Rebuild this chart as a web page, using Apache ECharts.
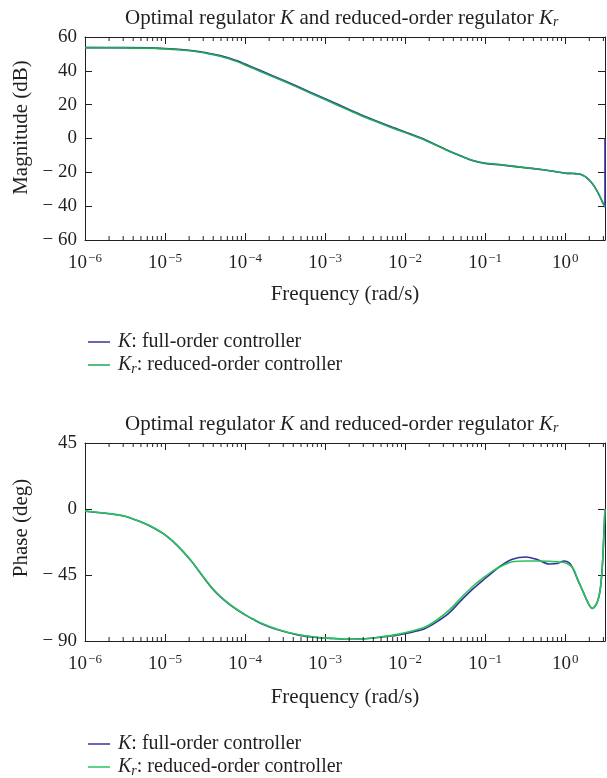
<!DOCTYPE html>
<html>
<head>
<meta charset="utf-8">
<script src="https://cdn.jsdelivr.net/npm/echarts@6/dist/echarts.min.js"></script>
<style>
html,body{margin:0;padding:0;background:#fff;}
#main{width:607px;height:778px;}
</style>
</head>
<body>
<div id="main"></div>
<script>
// frequency given as log10(w), w in rad/s
var magFreq = [-6,-5.5,-5.2,-5.0,-4.8,-4.6,-4.5,-4.3,-4.1,-4.0,-3.8,-3.5,-3.2,-3.0,-2.7,-2.5,-2.2,-2.0,-1.8,-1.5,-1.3,-1.15,-1.0,-0.8,-0.5,-0.3,-0.1,0.0,0.1,0.18,0.25,0.3,0.36,0.42,0.46,0.497];
var magK  = [53.7,53.7,53.6,53.2,52.6,51.6,50.8,48.9,46.0,44.0,40.0,34.0,27.7,23.5,17.2,13.0,7.4,3.9,0.3,-6.3,-10.4,-13.2,-14.8,-15.7,-17.3,-18.3,-19.8,-20.5,-20.7,-21.0,-22.5,-24.5,-28.0,-33.0,-37.0,-40.5];
var magKr = [53.7,53.6,53.4,53.0,52.3,51.3,50.5,48.5,45.5,43.5,39.5,33.5,27.2,23.0,16.7,12.5,7.0,3.5,0.0,-6.5,-10.5,-13.0,-14.5,-15.5,-17.2,-18.3,-19.8,-20.5,-20.7,-21.0,-22.5,-24.5,-28.0,-33.0,-37.0,-40.5];
var magKEnd = 0;

var phFreq = [-6,-5.7,-5.5,-5.3,-5.17,-5.0,-4.85,-4.68,-4.51,-4.4,-4.3,-4.2,-4.1,-4.0,-3.9,-3.8,-3.6,-3.33,-3.1,-2.9,-2.7,-2.5,-2.3,-2.1,-1.9,-1.75,-1.6,-1.45,-1.3,-1.15,-1.0,-0.9,-0.8,-0.66,-0.49,-0.35,-0.2,-0.1,-0.015,0.05,0.1,0.15,0.22,0.29,0.335,0.37,0.41,0.44,0.465,0.485,0.497];
var phK  = [-1.5,-3.2,-5.0,-8.9,-12.1,-17.7,-24.8,-35.0,-47.3,-54.8,-60.3,-64.8,-68.7,-72.2,-75.2,-78.0,-82.2,-86.0,-87.6,-88.3,-88.8,-88.5,-87.4,-86.0,-83.8,-81.5,-76.8,-70.8,-62.3,-54.3,-47.3,-42.8,-38.5,-34.2,-32.7,-34.5,-37.5,-37.2,-35.5,-36.8,-41.0,-47.5,-56.0,-64.5,-67.8,-66.5,-62.0,-54.0,-38.0,-15.0,0.0];
var phKr = [-1.4,-3.1,-4.9,-8.8,-11.9,-17.5,-24.6,-34.7,-47.0,-54.5,-60.0,-64.5,-68.5,-72.0,-75.0,-77.8,-82.0,-85.8,-87.5,-88.2,-88.8,-88.5,-87.2,-85.5,-83.0,-80.5,-75.5,-69.0,-60.5,-52.5,-46.0,-42.0,-39.0,-36.0,-35.5,-35.5,-35.6,-36.0,-36.5,-38.0,-40.5,-47.0,-56.0,-64.5,-67.8,-66.5,-62.0,-54.0,-38.0,-15.0,0.0];

var decades = [-6,-5,-4,-3,-2,-1,0];
var xMax = Math.log10(Math.PI);

var FONT = 'Liberation Serif';
var INK = '#231f20';
var BLUE = '#34349a';
var GREEN1 = '#1ea857';
var GREEN2 = '#28c45a';

var minorTicks = [];
for (var a = 0; a < decades.length; a++) {
    for (var k = 2; k <= 9; k++) {
        var v = decades[a] + Math.log10(k);
        if (v < xMax) minorTicks.push([v, 0]);
    }
}

function pairs(xs, ys) {
    var out = [];
    for (var i = 0; i < xs.length; i++) out.push([xs[i], ys[i]]);
    return out;
}
var magKData = pairs(magFreq, magK);
magKData.push([xMax, magKEnd]);

function yLabel(v) {
    if (v < 0) return '\u2212 ' + (-v);
    return '' + v;
}
function xLabel(v) {
    if (Math.abs(v - Math.round(v)) > 1e-6) return '';
    var n = Math.round(v);
    return '10{sup|' + (n < 0 ? '\u2212' + (-n) : n) + '}';
}

var labelRich = {
    sup: {fontSize: 13, fontFamily: FONT, color: INK, padding: [0, 0, 9, 1]}
};
var textRich = {
    i: {fontStyle: 'italic', fontFamily: FONT, color: INK, fontSize: 21},
    sub: {fontStyle: 'italic', fontFamily: FONT, color: INK, fontSize: 14, padding: [8, 0, 0, 0]}
};
var legendRich = {
    t: {fontFamily: FONT, color: INK, fontSize: 20},
    i: {fontStyle: 'italic', fontFamily: FONT, color: INK, fontSize: 20, padding: [0, 0, 0, 3]},
    sub: {fontStyle: 'italic', fontFamily: FONT, color: INK, fontSize: 14, padding: [8, 0, 0, 0]}
};

function bottomX(grid, name, gap) {
    return {
        type: 'value', gridIndex: grid, position: 'bottom',
        min: -6, max: xMax, interval: 1,
        name: name, nameLocation: 'middle', nameGap: gap,
        nameTextStyle: {fontFamily: FONT, fontSize: 21, color: INK},
        axisLine: {show: true, onZero: false, lineStyle: {color: INK, width: 1}},
        axisTick: {show: true, inside: true, length: 7, lineStyle: {color: INK}},
        axisLabel: {formatter: xLabel, showMaxLabel: false, margin: 12, fontFamily: FONT, fontSize: 19, color: INK, rich: labelRich},
        splitLine: {show: false}
    };
}
function topX(grid) {
    return {
        type: 'value', gridIndex: grid, position: 'top',
        min: -6, max: xMax, interval: 1,
        axisLine: {show: true, onZero: false, lineStyle: {color: INK, width: 1}},
        axisTick: {show: true, inside: true, length: 7, lineStyle: {color: INK}},
        axisLabel: {show: false},
        splitLine: {show: false}
    };
}
function leftY(grid, min, max, step, name, shift) {
    return {
        type: 'value', gridIndex: grid, position: 'left',
        min: min, max: max, interval: step,
        name: name, nameLocation: 'middle', nameGap: 53, nameRotate: 90,
        nameTextStyle: {fontFamily: FONT, fontSize: 21, color: INK, padding: [0, 0, 0, shift]},
        axisLine: {show: true, onZero: false, lineStyle: {color: INK, width: 1}},
        axisTick: {show: true, inside: true, length: 7, lineStyle: {color: INK}},
        axisLabel: {formatter: yLabel, margin: 8, fontFamily: FONT, fontSize: 19, color: INK},
        splitLine: {show: false}
    };
}
function rightY(grid, min, max, step) {
    return {
        type: 'value', gridIndex: grid, position: 'right',
        min: min, max: max, interval: step,
        axisLine: {show: true, onZero: false, lineStyle: {color: INK, width: 1}},
        axisTick: {show: true, inside: true, length: 7, lineStyle: {color: INK}},
        axisLabel: {show: false},
        splitLine: {show: false}
    };
}

// minor log ticks on bottom and top edges
function minorSeries(xi, yi, ymin, ymax) {
    return {
        type: 'custom', xAxisIndex: xi, yAxisIndex: yi, silent: true, z: 5,
        data: minorTicks,
        renderItem: function (params, api) {
            var x = api.value(0);
            var pb = api.coord([x, ymin]);
            var pt = api.coord([x, ymax]);
            var st = {stroke: INK, lineWidth: 1};
            return {
                type: 'group',
                children: [
                    {type: 'line', shape: {x1: pb[0], y1: pb[1], x2: pb[0], y2: pb[1] - 4}, style: st},
                    {type: 'line', shape: {x1: pt[0], y1: pt[1], x2: pt[0], y2: pt[1] + 4}, style: st}
                ]
            };
        }
    };
}

function lineSeries(name, xi, yi, data, color) {
    return {
        name: name, type: 'line', xAxisIndex: xi, yAxisIndex: yi,
        data: data, symbol: 'none', smooth: 0.3, smoothMonotone: 'none',
        lineStyle: {color: color, width: 1.6}, itemStyle: {color: color},
        animation: false, z: 3
    };
}

var legendNames = {
    K1: '{i|K}{t|: full-order controller}',
    Kr1: '{i|K}{sub|r}{t|: reduced-order controller}',
    K2: '{i|K}{t|: full-order controller}',
    Kr2: '{i|K}{sub|r}{t|: reduced-order controller}'
};
function legendItem(name, top) {
    return {
        data: [name], orient: 'vertical', left: 88, top: top,
        icon: 'rect', itemWidth: 22, itemHeight: 1.5, itemGap: 6, padding: 0,
        formatter: function (n) { return legendNames[n]; },
        textStyle: {fontFamily: FONT, fontSize: 20, color: INK, rich: legendRich}
    };
}

var titleText = 'Optimal regulator {i|K} and reduced-order regulator {i|K}{sub|r}';

var chart = echarts.init(document.getElementById('main'));
var option = {
    animation: false,
    backgroundColor: '#fff',
    title: [
        {text: titleText, left: 120, top: 2,
            textStyle: {fontFamily: FONT, fontSize: 21, fontWeight: 'normal', color: INK, rich: textRich}},
        {text: titleText, left: 120, top: 408,
            textStyle: {fontFamily: FONT, fontSize: 21, fontWeight: 'normal', color: INK, rich: textRich}}
    ],
    legend: [
        legendItem('K1', 332),
        legendItem('Kr1', 355),
        legendItem('K2', 734),
        legendItem('Kr2', 757)
    ],
    grid: [
        {left: 85, top: 37, width: 520, height: 203},
        {left: 85, top: 443, width: 520, height: 198}
    ],
    xAxis: [bottomX(0, 'Frequency (rad/s)', 44), topX(0), bottomX(1, 'Frequency (rad/s)', 46), topX(1)],
    yAxis: [leftY(0, -60, 60, 20, 'Magnitude (dB)', 22), rightY(0, -60, 60, 20), leftY(1, -90, 45, 45, 'Phase (deg)', 28), rightY(1, -90, 45, 45)],
    series: [
        lineSeries('K1', 0, 0, magKData, BLUE),
        lineSeries('Kr1', 0, 0, pairs(magFreq, magKr), GREEN1),
        lineSeries('K2', 2, 2, pairs(phFreq, phK), BLUE),
        lineSeries('Kr2', 2, 2, pairs(phFreq, phKr), GREEN2),
        minorSeries(0, 0, -60, 60),
        minorSeries(2, 2, -90, 45)
    ]
};
chart.setOption(option);
</script>
</body>
</html>
